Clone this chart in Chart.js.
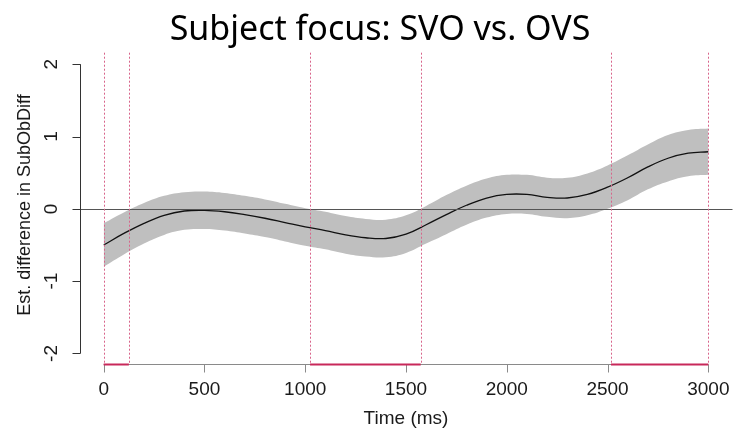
<!DOCTYPE html>
<html>
<head>
<meta charset="utf-8">
<script src="https://cdn.jsdelivr.net/npm/chart.js@4.4.0/dist/chart.umd.min.js"></script>
<style>
    body { margin: 0; background: #fff; }
    canvas { display: block; }
</style>
</head>
<body>
<canvas id="chart" width="734" height="432"></canvas>
<script>
// time points (ms) and the smooth estimate
var times = [0, 100, 200, 300, 400, 500, 600, 700, 800, 900, 1000, 1100, 1200, 1300, 1400, 1500,
    1600, 1700, 1800, 1900, 2000, 2100, 2200, 2300, 2400, 2500, 2600, 2700, 2800, 2900, 3000]
var fit = [-0.50, -0.34, -0.20, -0.09, -0.03, -0.02, -0.04, -0.08, -0.13, -0.19, -0.25, -0.30, -0.36, -0.40, -0.41, -0.35,
    -0.22, -0.08, 0.05, 0.15, 0.20, 0.20, 0.16, 0.15, 0.20, 0.30, 0.43, 0.58, 0.70, 0.77, 0.79]
var upper = [-0.20, -0.05, 0.08, 0.18, 0.23, 0.24, 0.22, 0.18, 0.13, 0.07, 0.01, -0.04, -0.10, -0.14, -0.15, -0.09,
    0.04, 0.19, 0.32, 0.42, 0.47, 0.47, 0.43, 0.43, 0.49, 0.60, 0.74, 0.89, 1.02, 1.09, 1.11]
var lower = [-0.80, -0.63, -0.48, -0.36, -0.29, -0.28, -0.30, -0.34, -0.39, -0.45, -0.51, -0.56, -0.62, -0.66, -0.67, -0.61,
    -0.48, -0.35, -0.22, -0.12, -0.07, -0.07, -0.11, -0.13, -0.09, 0.00, 0.12, 0.27, 0.38, 0.45, 0.47]

// windows where the difference is significant
var sigStart = [0, 1024, 2517]
var sigEnd = [125, 1573, 3000]

var xTicks = [0, 500, 1000, 1500, 2000, 2500, 3000]
var yTicks = [-2, -1, 0, 1, 2]

var titleText = 'Subject focus: SVO vs. OVS'
var xTitle = 'Time (ms)'
var yTitle = 'Est. difference in SubObDiff'

function pts(ys) {
    return times.map((t, i) => ({ x: t, y: ys[i] }))
}

var rAxes = {
    id: 'rAxes',
    afterDatasetsDraw(chart) {
        var ctx = chart.ctx
        var x = chart.scales.x, y = chart.scales.y
        var area = chart.chartArea
        ctx.save()
        // zero line
        ctx.strokeStyle = '#555'
        ctx.lineWidth = 1
        ctx.beginPath()
        ctx.moveTo(area.left, Math.round(y.getPixelForValue(0)) + 0.5)
        ctx.lineTo(area.right, Math.round(y.getPixelForValue(0)) + 0.5)
        ctx.stroke()
        // dotted marks at window edges
        ctx.strokeStyle = '#d8648a'
        ctx.setLineDash([2, 2])
        sigStart.concat(sigEnd).forEach(t => {
            var px = Math.round(x.getPixelForValue(t)) + 0.5
            ctx.beginPath()
            ctx.moveTo(px, area.top)
            ctx.lineTo(px, area.bottom)
            ctx.stroke()
        });
        ctx.restore()
    },
    afterDraw(chart) {
        var ctx = chart.ctx
        var x = chart.scales.x, y = chart.scales.y
        var area = chart.chartArea
        var base = area.bottom - 0.5
        ctx.save()
        // x axis
        ctx.strokeStyle = '#8a8a8a'
        ctx.lineWidth = 1
        ctx.beginPath()
        ctx.moveTo(x.getPixelForValue(xTicks[0]), base)
        ctx.lineTo(x.getPixelForValue(xTicks[xTicks.length - 1]), base)
        xTicks.forEach(t => {
            var px = Math.round(x.getPixelForValue(t)) + 0.5
            ctx.moveTo(px, base)
            ctx.lineTo(px, base + 8)
        });
        ctx.stroke()
        ctx.strokeStyle = '#c8285a'
        ctx.lineWidth = 2
        sigStart.forEach((s, i) => {
            ctx.beginPath()
            ctx.moveTo(x.getPixelForValue(s), base)
            ctx.lineTo(x.getPixelForValue(sigEnd[i]), base)
            ctx.stroke()
        });
        // y axis
        var ax = 80.5
        ctx.strokeStyle = '#333'
        ctx.lineWidth = 1
        ctx.beginPath()
        ctx.moveTo(ax, y.getPixelForValue(yTicks[0]))
        ctx.lineTo(ax, y.getPixelForValue(yTicks[yTicks.length - 1]))
        yTicks.forEach(v => {
            var py = Math.round(y.getPixelForValue(v)) + 0.5
            ctx.moveTo(ax, py)
            ctx.lineTo(ax - 8, py)
        });
        ctx.stroke()

        ctx.fillStyle = '#1a1a1a'
        ctx.font = '19px "Liberation Sans", Arial, sans-serif'
        ctx.textAlign = 'center'
        ctx.textBaseline = 'alphabetic'
        xTicks.forEach(t => {
            ctx.fillText(String(t), x.getPixelForValue(t), 395)
        });
        ctx.fillText(xTitle, 406, 424)

        yTicks.forEach(v => {
            ctx.save()
            ctx.translate(57, y.getPixelForValue(v))
            ctx.rotate(-Math.PI / 2)
            ctx.fillText(String(v), 0, 0)
            ctx.restore()
        });
        ctx.save()
        ctx.font = '18px "Liberation Sans", Arial, sans-serif'
        ctx.translate(30, 205)
        ctx.rotate(-Math.PI / 2)
        ctx.fillText(yTitle, 0, 0)
        ctx.restore()

        ctx.fillStyle = '#000'
        ctx.font = '34px "Noto Sans", sans-serif'
        ctx.fillText(titleText, 380, 40)
        ctx.restore()
    }
}

var chart = new Chart(document.getElementById('chart'), {
    type: 'line',
    data: {
        datasets: [{
            label: 'upper',
            data: pts(upper),
            borderWidth: 0,
            borderColor: 'rgba(0,0,0,0)',
            backgroundColor: '#bfbfbf',
            fill: '+1',
            pointRadius: 0,
            tension: 0.4,
            order: 2,
        }, {
            label: 'lower',
            data: pts(lower),
            borderWidth: 0,
            borderColor: 'rgba(0,0,0,0)',
            fill: false,
            pointRadius: 0,
            tension: 0.4,
            order: 3,
        }, {
            label: 'fit',
            data: pts(fit),
            borderWidth: 1.3,
            borderColor: '#111',
            fill: false,
            pointRadius: 0,
            tension: 0.4,
            order: 0,
        }]
    },
    plugins: [rAxes],
    options: {
        responsive: false,
        animation: false,
        layout: {
            padding: { left: 79.5, right: 1.5, top: 52.7, bottom: 67 }
        },
        plugins: {
            legend: { display: false },
            tooltip: { enabled: false },
        },
        scales: {
            x: { type: 'linear', min: -120, max: 3120, display: false },
            y: { min: -2.16, max: 2.16, display: false },
        }
    }
});
</script>
</body>
</html>
